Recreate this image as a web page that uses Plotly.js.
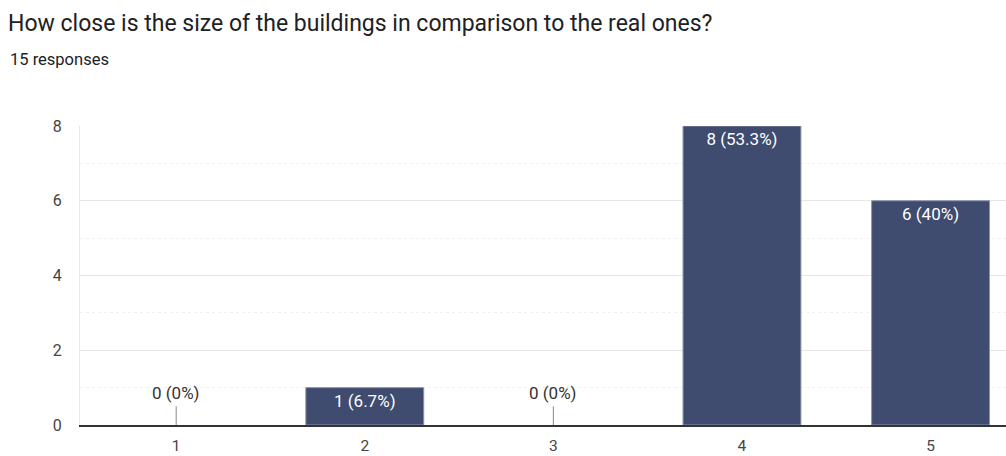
<!DOCTYPE html>
<html>
<head>
<meta charset="utf-8">
<script src="https://cdn.plot.ly/plotly-3.0.1.min.js"></script>
<style>html,body{margin:0;padding:0;background:#fff;}#chart{width:1006px;height:456px;}</style>
</head>
<body>
<div id="chart"></div>
<script>
const categories = [1, 2, 3, 4, 5];
const counts = [0, 1, 0, 8, 6];
const totalResponses = 15;
const titleText = "How close is the size of the buildings in comparison to the real ones?";
const subtitleText = totalResponses + " responses";
const yTicks = [0, 2, 4, 6, 8];

function pctLabel(c) {
  const p = Math.round(c / totalResponses * 1000) / 10;
  return c + " (" + p + "%)";
}
const labels = counts.map(pctLabel);

const zeroCats = categories.filter((c, i) => counts[i] === 0);
const zeroLabels = categories.map((c, i) => counts[i] === 0 ? labels[i] : null).filter(v => v !== null);

const barColor = "#3f4b6f";
const fontFam = "Roboto, Arial, sans-serif";

const bars = {
  type: "bar",
  x: categories,
  y: counts,
  text: counts.map((c, i) => c > 0 ? labels[i] : ""),
  textposition: "inside",
  insidetextanchor: "end",
  insidetextfont: {color: "#ffffff", size: 17, family: fontFam},
  textangle: 0,
  constraintext: "none",
  width: 0.625,
  marker: {color: barColor, line: {color: "#8a93a8", width: counts.map(c => c > 0 ? 1 : 0)}},
  hoverinfo: "skip"
};

const stubs = {
  type: "scatter",
  mode: "markers",
  x: zeroCats,
  y: zeroCats.map(() => 0),
  marker: {opacity: 0, size: 1},
  error_y: {type: "data", symmetric: false, array: zeroCats.map(() => 0.5), arrayminus: zeroCats.map(() => 0), width: 0, color: "#888", thickness: 1},
  hoverinfo: "skip"
};

const annotations = zeroCats.map((c, i) => ({
  x: c, y: 0, xref: "x", yref: "y",
  text: zeroLabels[i], showarrow: false,
  yanchor: "bottom", yshift: 20,
  font: {size: 17, color: "#333", family: fontFam}
}));
annotations.push({
  xref: "paper", yref: "paper",
  x: (8 - 80) / 926, y: (425 - 60) / 299,
  xanchor: "left", yanchor: "middle",
  text: subtitleText, showarrow: false,
  font: {size: 16.5, color: "#202124", family: fontFam}
});

const layout = {
  width: 1006, height: 456,
  margin: {l: 80, r: 0, t: 126, b: 31, pad: 0},
  paper_bgcolor: "#fff", plot_bgcolor: "#fff",
  showlegend: false,
  font: {family: fontFam, color: "#444", size: 16},
  title: {
    text: titleText,
    xref: "container", yref: "container",
    x: 8 / 1006, xanchor: "left",
    y: 1 - 23 / 456, yanchor: "middle",
    font: {size: 23, color: "#202124", family: fontFam}
  },
  xaxis: {
    range: [0.49, 5.40],
    tickmode: "array", tickvals: categories, ticktext: categories.map(String),
    ticks: "outside", ticklen: 5, tickcolor: "rgba(0,0,0,0)",
    showgrid: false, zeroline: false,
    showline: true, linecolor: "#333", linewidth: 2,
    tickfont: {size: 15.5, color: "#444"},
    fixedrange: true
  },
  yaxis: {
    range: [0, 8],
    tickmode: "array", tickvals: yTicks,
    ticks: "outside", ticklen: 14, tickcolor: "rgba(0,0,0,0)",
    showgrid: true, gridcolor: "#e6e6e6", gridwidth: 1,
    minor: {dtick: 1, showgrid: true, gridcolor: "#f1f1f1", gridwidth: 1, griddash: "dot"},
    zeroline: false,
    showline: true, linecolor: "#e8e8e8", linewidth: 1,
    tickfont: {size: 16, color: "#444"},
    fixedrange: true
  },
  annotations: annotations
};

Plotly.newPlot("chart", [bars, stubs], layout, {displayModeBar: false, staticPlot: true});
</script>
</body>
</html>
